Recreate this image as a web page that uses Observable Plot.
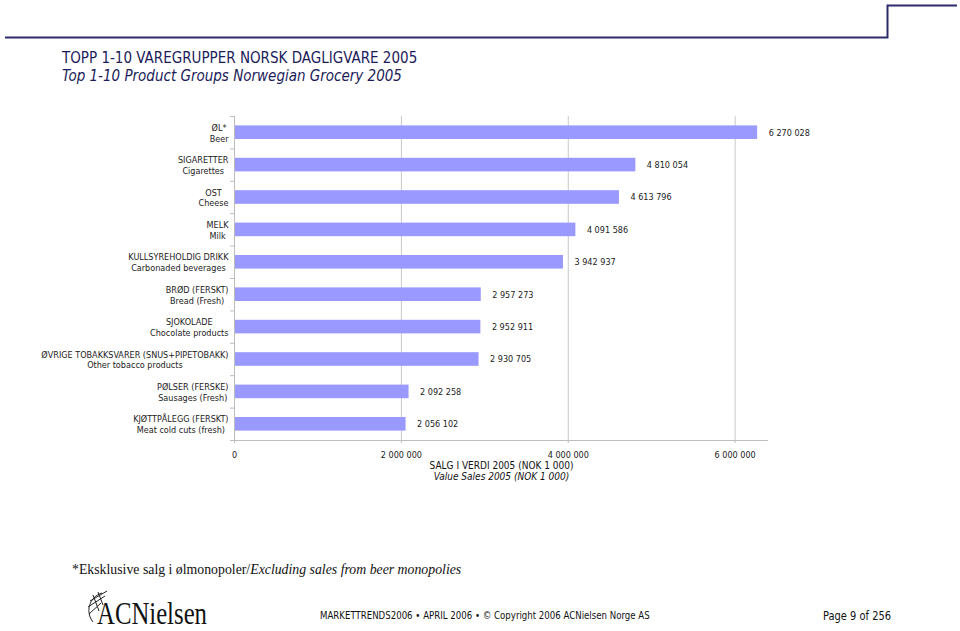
<!DOCTYPE html>
<html>
<head>
<meta charset="utf-8">
<script src="https://cdn.jsdelivr.net/npm/d3@7"></script>
<script src="https://cdn.jsdelivr.net/npm/@observablehq/plot@0.6"></script>
<style>
  html, body { margin: 0; padding: 0; background: #fff; }
  #page { position: relative; width: 960px; height: 631px; overflow: hidden; background: #fff; }
  .abs { position: absolute; white-space: nowrap; }
  #title { left: 62px; top: 49px; font-family: "Liberation Sans Narrow", "DejaVu Sans Condensed", sans-serif; font-size: 15px; color: #1c1c5a; line-height: 18px; }
  #title .it { font-style: italic; }
  #note { left: 72px; top: 562px; font-family: "Liberation Serif", "DejaVu Serif", serif; font-size: 13.8px; color: #111; }
  #foot { left: 320px; top: 609px; font-family: "Liberation Sans Narrow", "DejaVu Sans Condensed", sans-serif; font-size: 11px; color: #111; transform: scaleX(0.87); transform-origin: left top; }
  #pageno { left: 823px; top: 608px; font-family: "Liberation Sans Narrow", "DejaVu Sans Condensed", sans-serif; font-size: 12.5px; color: #111; transform: scaleX(0.88); transform-origin: left top; }
  #chart { position: absolute; left: 0; top: 100px; }
</style>
</head>
<body>
<div id="page">
  <svg class="abs" style="left:0;top:0" width="960" height="45">
    <path d="M5,37.5 H887.5 V5.5 H957" fill="none" stroke="#2b2b6b" stroke-width="2"/>
  </svg>
  <div id="title" class="abs">TOPP 1-10 VAREGRUPPER NORSK DAGLIGVARE 2005<br><span class="it">Top 1-10 Product Groups Norwegian Grocery 2005</span></div>
  <div id="chart"></div>
  <div id="note" class="abs">*Eksklusive salg i ølmonopoler/<i>Excluding sales from beer monopolies</i></div>
  <svg class="abs" style="left:80px;top:584px;overflow:visible" width="135" height="46">
    <g fill="none" stroke="#222" stroke-width="1">
      <path d="M22,9 C9,13 5,28 13,38"/>
      <path d="M10,17 L27,7 M8,23 L25,12 M9,30 L21,19 M13,11 L19,27 M18,8 L23,21"/>
    </g>
    <text x="17" y="40" font-family="Liberation Serif, DejaVu Serif, serif" font-size="31" fill="#111" textLength="110" lengthAdjust="spacingAndGlyphs">ACNielsen</text>
  </svg>
  <div id="foot" class="abs">MARKETTRENDS2006 • APRIL 2006 • © Copyright 2006 ACNielsen Norge AS</div>
  <div id="pageno" class="abs">Page 9 of 256</div>
</div>
<script>
const categoriesNo = ["ØL*", "SIGARETTER", "OST", "MELK", "KULLSYREHOLDIG DRIKK", "BRØD (FERSKT)", "SJOKOLADE", "ØVRIGE TOBAKKSVARER (SNUS+PIPETOBAKK)", "PØLSER (FERSKE)", "KJØTTPÅLEGG (FERSKT)"];
const categoriesEn = ["Beer", "Cigarettes", "Cheese", "Milk", "Carbonaded beverages", "Bread (Fresh)", "Chocolate products", "Other tobacco products", "Sausages (Fresh)", "Meat cold cuts (fresh)"];
const values = [6270028, 4810054, 4613796, 4091586, 3942937, 2957273, 2952911, 2930705, 2092258, 2056102];
const xTicks = [0, 2000000, 4000000, 6000000];
const xTitleNo = "SALG I VERDI 2005 (NOK 1 000)";
const xTitleEn = "Value Sales 2005 (NOK 1 000)";

const data = values.map((v, i) => ({i, value: v, no: categoriesNo[i], en: categoriesEn[i]}));
const nf = d3.formatLocale({thousands: " ", grouping: [3], decimal: ",", currency: ["", ""]}).format(",d");
const idx = d3.range(values.length);
const bounds = d3.range(values.length + 1).map(k => k - 0.5);
const half = 0.21;
const font = "'Liberation Sans Narrow', 'DejaVu Sans Condensed', sans-serif";

const chart = Plot.plot({
  width: 960,
  height: 390,
  marginLeft: 234,
  marginRight: 192,
  marginTop: 16,
  marginBottom: 50,
  style: {fontFamily: font, fontSize: "9px", color: "#222", background: "transparent"},
  x: {domain: [0, 6400000], label: null},
  y: {domain: [values.length - 0.5, -0.5], label: null},
  marks: [
    Plot.gridX(xTicks.slice(1), {stroke: "#c8c8c8", strokeOpacity: 1}),
    Plot.rectX(data, {x1: 0, x2: "value", y1: d => d.i - half, y2: d => d.i + half, fill: "#9999ff"}),
    Plot.ruleX([0], {stroke: "#bdbdbd"}),
    Plot.ruleY([values.length - 0.5], {stroke: "#bdbdbd"}),
    Plot.axisX(xTicks, {tickSize: 3, tickPadding: 8, stroke: "#bdbdbd", fill: "#222", tickFormat: nf, fontSize: 9, label: null}),
    Plot.axisY(bounds, {tickSize: 4, stroke: "#bdbdbd", tickFormat: () => "", label: null}),
    Plot.axisY(idx, {tickSize: 0, tickPadding: 6, tickFormat: i => categoriesNo[i] + "\n" + categoriesEn[i], label: null, fill: "#222", lineHeight: 1.2}),
    Plot.text(data, {x: "value", y: "i", text: d => nf(d.value), dx: 11, textAnchor: "start", fill: "#222", fontSize: 9}),
    Plot.text([xTitleNo], {frameAnchor: "bottom", dy: 28, text: d => d, fill: "#111", fontSize: 10}),
    Plot.text([xTitleEn], {frameAnchor: "bottom", dy: 39, text: d => d, fill: "#111", fontSize: 10, fontStyle: "italic"})
  ]
});
document.getElementById("chart").appendChild(chart);

// center the two lines of each category label on each other (right-aligned as a block)
d3.select(chart).selectAll("text").each(function() {
  const tspans = this.querySelectorAll("tspan");
  if (tspans.length !== 2) return;
  const w = Math.max(...Array.from(tspans, t => t.getComputedTextLength()));
  this.setAttribute("text-anchor", "middle");
  tspans.forEach(t => t.setAttribute("x", -w / 2));
});
</script>
</body>
</html>
